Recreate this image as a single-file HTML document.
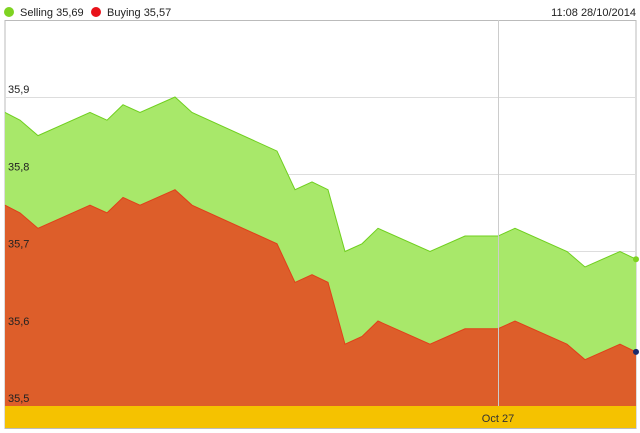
<!DOCTYPE html>
<html><head><meta charset="utf-8"><style>
body{margin:0;background:#fff;font-family:"Liberation Sans",Arial,sans-serif;}
svg{display:block}
</style></head><body>
<svg id="c" width="640" height="433">
<g>
<circle cx="9" cy="12" r="5" fill="#7ed321"/>
<text x="20" y="16" font-size="11" fill="#222">Selling 35,69</text>
<circle cx="96" cy="12" r="5" fill="#e8121a"/>
<text x="107" y="16" font-size="11" fill="#222">Buying 35,57</text>
<text x="636" y="16" font-size="11" fill="#222" text-anchor="end">11:08 28/10/2014</text>
</g>
<rect x="5" y="20.5" width="631" height="408" fill="none" stroke="#bbb"/>
<g id="grid"></g>
<g id="series"></g>
<rect x="5" y="406" width="631" height="22" fill="#f5c200"/>
<line x1="498.5" y1="20" x2="498.5" y2="406" stroke="#ccc"/>
<text x="498" y="422" font-size="11" fill="#333" text-anchor="middle">Oct 27</text>
<g id="labels"></g>
</svg>
<script>
const times=[0,15,33,85,102,118,135,170,187,272,290,307,323,340,357,373,425,460,493,510,562,580,615,631];
const selling=[35.88,35.87,35.85,35.88,35.87,35.89,35.88,35.90,35.88,35.83,35.78,35.79,35.78,35.70,35.71,35.73,35.70,35.72,35.72,35.73,35.70,35.68,35.70,35.69];
const buying=[35.76,35.75,35.73,35.76,35.75,35.77,35.76,35.78,35.76,35.71,35.66,35.67,35.66,35.58,35.59,35.61,35.58,35.60,35.60,35.61,35.58,35.56,35.58,35.57];
const yTicks=[35.5,35.6,35.7,35.8,35.9];
const yTickLabels=["35,5","35,6","35,7","35,8","35,9"];
const NS="http://www.w3.org/2000/svg";
const X=t=>5+(t-times[0])/(times[times.length-1]-times[0])*631;
const Y=v=>406-(v-35.5)/0.1*77.25;
const grid=document.getElementById('grid'),labels=document.getElementById('labels'),ser=document.getElementById('series');
yTicks.forEach((v,i)=>{
 const l=document.createElementNS(NS,'line');
 l.setAttribute('x1',5);l.setAttribute('x2',636);l.setAttribute('y1',Math.round(Y(v))+.5);l.setAttribute('y2',Math.round(Y(v))+.5);
 l.setAttribute('stroke','#ddd');
 
 
 grid.appendChild(l);
 const t=document.createElementNS(NS,'text');
 t.setAttribute('x',8);t.setAttribute('y',Y(v)-4);t.setAttribute('font-size','11');t.setAttribute('fill','#222');
 t.textContent=yTickLabels[i];
 
 
 labels.appendChild(t);
});
function area(vals,fill,stroke,name){
 let d='M'+X(times[0])+','+Y(35.5);
 vals.forEach((v,i)=>d+='L'+X(times[i])+','+Y(v));
 d+='L'+X(times[times.length-1])+','+Y(35.5)+'Z';
 const p=document.createElementNS(NS,'path');
 p.setAttribute('d',d);p.setAttribute('fill',fill);
 
 
 ser.appendChild(p);
 let d2='';vals.forEach((v,i)=>d2+=(i?'L':'M')+X(times[i])+','+Y(v));
 const l=document.createElementNS(NS,'path');
 l.setAttribute('d',d2);l.setAttribute('fill','none');l.setAttribute('stroke',stroke);l.setAttribute('stroke-width','1');
 
 
 ser.appendChild(l);
}
area(selling,'#a8e86a','#6fcf1e','selling');
area(buying,'#dd5e2a','#e0401a','buying');
const n=times.length-1;
[[selling,'#7ed321','selling-last-point'],[buying,'#1a2a6a','buying-last-point']].forEach(([s,c,nm])=>{
 const ci=document.createElementNS(NS,'circle');
 ci.setAttribute('cx',X(times[n]));ci.setAttribute('cy',Y(s[n]));ci.setAttribute('r',3);ci.setAttribute('fill',c);
 
 
 ser.appendChild(ci);
});
</script>
</body></html>
